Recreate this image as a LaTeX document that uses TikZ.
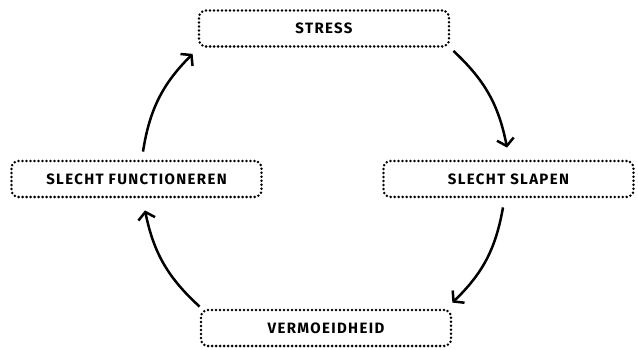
\documentclass[tikz,border=0pt]{standalone}
\usepackage{fontspec}
\setsansfont[LetterSpace=9]{Fira Sans}
\usetikzlibrary{arrows.meta}
\tikzset{
  state/.style={draw, dash pattern=on 0pt off 4pt, line cap=round, line width=2.8pt,
    rounded corners=7pt, minimum width=250pt, minimum height=36pt,
    font=\sffamily\bfseries\fontsize{15}{17}\selectfont},
  cycle/.style={-{Straight Barb[length=7pt,width=17pt]}, line width=2.5pt, bend left=18}
}
\begin{document}
\begin{tikzpicture}[x=1pt,y=-1pt]
\useasboundingbox (0,0) rectangle (638,350);
\node[state] (stress) at (324,28.5) {STRESS};
\node[state] (slapen) at (508.5,179) {SLECHT SLAPEN};
\node[state] (moe) at (326,328) {VERMOEIDHEID};
\node[state] (functie) at (136.5,179) {SLECHT FUNCTIONEREN};
\draw[cycle] ([shift={(3pt,-3pt)}]stress.south east) to ([shift={(-1.5pt,12pt)}]slapen.north);
\draw[cycle] ([shift={(-5.5pt,-9pt)}]slapen.south) to ([shift={(0pt,6pt)}]moe.north east);
\draw[cycle] ([shift={(0pt,2pt)}]moe.north west) to ([shift={(8.5pt,-12pt)}]functie.south);
\draw[cycle] ([shift={(6.5pt,8pt)}]functie.north) to ([shift={(-5pt,-6pt)}]stress.south west);
\end{tikzpicture}
\end{document}
